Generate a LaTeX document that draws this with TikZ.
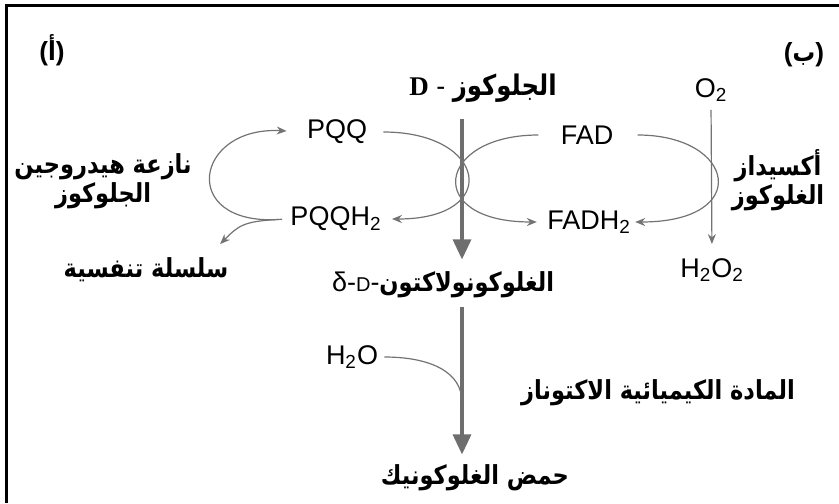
\documentclass[tikz,border=0pt]{standalone}
\usepackage{fontspec}
\setmainfont{Liberation Sans}
\newfontfamily\arabicfont[Script=Arabic,FakeStretch=0.86]{DejaVu Sans}
\newfontfamily\serifD{Liberation Serif}
\usetikzlibrary{arrows.meta,positioning,calc}
\TeXXeTstate=1

\begin{document}
\begin{tikzpicture}[x=0.5pt,y=-0.5pt,
  lbl/.style={inner sep=1pt,font=\fontsize{13.5}{15}\selectfont},
  arlbl/.style={inner sep=1pt,font=\fontsize{13.1}{14.5}\selectfont\arabicfont\bfseries,align=center},
  thinarrow/.style={draw=gray!90!black,line width=0.6pt,-{Stealth[length=5pt,width=4pt]},shorten <=5pt,shorten >=4pt},
  thinline/.style={draw=gray!90!black,line width=0.6pt},
  mainarrow/.style={draw=black!57,line width=1.6pt,-{Triangle[length=10pt,width=9pt]}}]
  \useasboundingbox (0,0) rectangle (839,503);
  % frame
  \draw[line width=1.6pt] (6.5,503) -- (6.5,5.5) -- (839,5.5);

  % panel tags
  \node[arlbl] (tagA) at (52,50) {{\rmfamily\bfseries(}\beginR أ\endR{\rmfamily\bfseries)}};
  \node[arlbl] (tagB) at (804,55) {{\rmfamily\bfseries(}\beginR ب\endR{\rmfamily\bfseries)}};

  % substrates and cofactors
  \node[lbl] (glc) at (483,88) {{\serifD\bfseries D} - {\arabicfont\bfseries\fontsize{14.2}{15}\selectfont\beginR الجلوكوز\endR}};
  \node[lbl] (o2) at (711,90) {O\textsubscript{2}};
  \node[lbl] (pqq) at (337,132) {PQQ};
  \node[lbl] (fad) at (587,135) {FAD};
  \node[lbl] (pqqh) at (336,219) {PQQH\textsubscript{2}};
  \node[lbl] (fadh) at (589,222) {FADH\textsubscript{2}};
  \node[arlbl] (gdh) at (103,181) {\beginR نازعة هيدروجين\endR\\\beginR الجلوكوز\endR};
  \node[arlbl] (gox) at (778,180) {\beginR أكسيداز\endR\\\beginR الغلوكوز\endR};
  \node[arlbl] (resp) at (146,270) {\beginR سلسلة تنفسية\endR};
  \node[lbl] (lac) at (443,285) {δ-{\fontsize{10}{12}\selectfont D}-{\arabicfont\bfseries\fontsize{13.1}{14.5}\selectfont\beginR الغلوكونولاكتون\endR}};
  \node[lbl] (h2o2) at (712,270) {H\textsubscript{2}O\textsubscript{2}};
  \node[lbl] (h2o) at (352,357) {H\textsubscript{2}O};
  \node[arlbl] (lacz) at (658,393) {\beginR المادة الكيميائية الاكتوناز\endR};
  \node[arlbl] (gla) at (475,478) {\beginR حمض الغلوكونيك\endR};

  % main path
  \coordinate (axis) at (462,0);
  \coordinate (join) at (462,402);
  \draw[mainarrow,shorten <=7pt,shorten >=5pt] (glc.south -| axis) -- (lac.north -| axis);
  \draw[mainarrow,shorten <=3pt,shorten >=4pt] (lac.south -| axis) -- (gla.north -| axis);
  \draw[thinline,shorten <=2pt] (h2o.east) .. controls +(50,0) and +(0,-30) .. (join);

  % cofactor cycles
  \draw[thinarrow,shorten >=9pt] (pqqh.west) .. controls +(-110,6) and +(-110,-6) .. (pqq.west);
  \draw[thinarrow,shorten <=7pt] (pqq.east) .. controls +(118,0) and +(118,0) .. (pqqh.east);
  \draw[thinarrow,shorten <=10pt] (fad.west) .. controls +(-122,0) and +(-122,0) .. (fadh.west);
  \draw[thinarrow,shorten <=11pt,shorten >=1pt] (fad.east) .. controls +(120,0) and +(120,0) .. (fadh.east);
  \draw[thinarrow,shorten <=3pt,shorten >=1pt] (pqqh.west) .. controls +(-45,2) and +(20,-20) .. ([xshift=-6pt,yshift=5pt]resp.north east);
  \draw[thinarrow,shorten <=3pt,shorten >=6pt] (o2.south) -- (h2o2.north);
\end{tikzpicture}
\end{document}
